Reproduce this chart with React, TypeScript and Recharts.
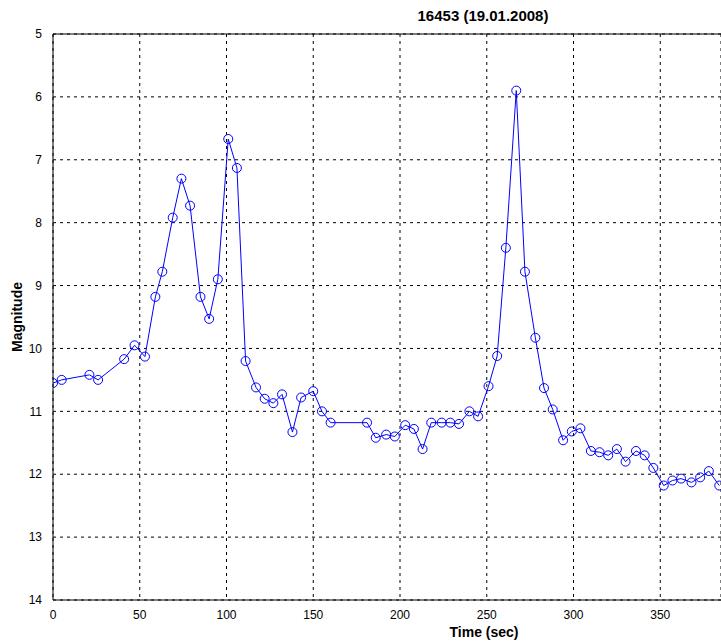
import {
  CartesianGrid,
  Label,
  Line,
  LineChart,
  ReferenceLine,
  XAxis,
  YAxis,
} from "recharts";

// light curve samples: time in seconds, magnitude
const times = [
  0, 5, 21, 26, 41, 47, 53, 59, 63, 69, 74, 79, 85, 90, 95, 101, 106, 111,
  117, 122, 127, 132, 138, 143, 150, 155, 160, 181, 186, 192, 197, 203, 208,
  213, 218, 224, 229, 234, 240, 245, 251, 256, 261, 267, 272, 278, 283, 288,
  294, 299, 304, 310, 315, 320, 325, 330, 336, 341, 346, 352, 357, 362, 368,
  373, 378, 384,
];
const magnitudes = [
  10.55, 10.5, 10.42, 10.5, 10.17, 9.95, 10.13, 9.18, 8.78, 7.92, 7.3, 7.73,
  9.18, 9.53, 8.9, 6.67, 7.13, 10.2, 10.62, 10.8, 10.87, 10.73, 11.33, 10.78,
  10.68, 11.0, 11.18, 11.18, 11.42, 11.37, 11.4, 11.22, 11.28, 11.6, 11.18,
  11.18, 11.18, 11.2, 11.0, 11.08, 10.6, 10.12, 8.4, 5.9, 8.78, 9.83, 10.63,
  10.97, 11.46, 11.32, 11.27, 11.63, 11.65, 11.7, 11.6, 11.8, 11.63, 11.7,
  11.9, 12.18, 12.1, 12.07, 12.13, 12.05, 11.95, 12.18,
];
const xTicks = [0, 50, 100, 150, 200, 250, 300, 350];
const yTicks = [5, 6, 7, 8, 9, 10, 11, 12, 13, 14];

const data = times.map((t, i) => ({ t, mag: magnitudes[i] }));

const font = "'Liberation Sans', Arial, sans-serif";

export default function App() {
  return (
    <div
      style={{
        position: "absolute",
        left: 0,
        top: 0,
        width: 721,
        height: 641,
        overflow: "hidden",
        background: "#fff",
        fontFamily: font,
      }}
    >
      <div
        style={{
          position: "absolute",
          left: 383,
          top: 7,
          width: 200,
          textAlign: "center",
          fontWeight: "bold",
          fontSize: 15,
        }}
      >
        16453 (19.01.2008)
      </div>
      <LineChart
        width={730}
        height={641}
        data={data}
        margin={{ top: 34, right: 9, bottom: 0, left: 0 }}
      >
        <CartesianGrid stroke="#000" strokeDasharray="3 4" />
        <XAxis
          dataKey="t"
          type="number"
          domain={[0, 385]}
          ticks={xTicks}
          allowDataOverflow
          height={41}
          stroke="#000"
          tickLine={false}
          tickMargin={4}
          tick={{ fill: "#000", fontSize: 12, fontFamily: font }}
        >
          <Label
            content={({ viewBox }: any) => (
              <text
                x={viewBox.x + 431}
                y={viewBox.y + 37}
                textAnchor="middle"
                fontFamily={font}
                fontSize={14}
                fontWeight="bold"
                fill="#000"
              >
                Time (sec)
              </text>
            )}
          />
        </XAxis>
        <YAxis
          type="number"
          reversed
          domain={[5, 14]}
          ticks={yTicks}
          width={53}
          stroke="#000"
          tickLine={false}
          tickMargin={5}
          tick={{ fill: "#000", fontSize: 12, fontFamily: font }}
        >
          <Label
            value="Magnitude"
            angle={-90}
            position="insideLeft"
            offset={17}
            style={{
              fontFamily: font,
              fontSize: 14,
              fontWeight: "bold",
              fill: "#000",
              textAnchor: "middle",
            }}
          />
        </YAxis>
        <ReferenceLine y={5} stroke="#000" />
        <Line
          type="linear"
          dataKey="mag"
          stroke="#0000ff"
          strokeWidth={1}
          dot={{ r: 4.5, stroke: "#0000ff", fill: "none", strokeWidth: 1 }}
          isAnimationActive={false}
        />
      </LineChart>
    </div>
  );
}
